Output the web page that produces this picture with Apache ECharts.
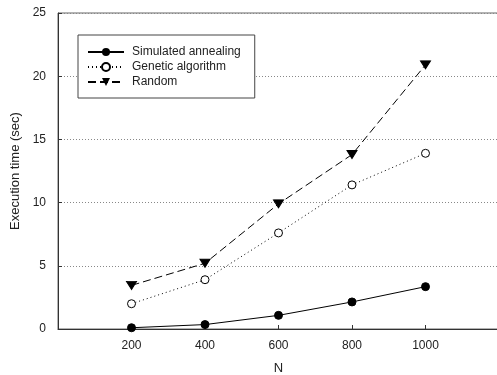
<!DOCTYPE html>
<html>
<head>
<meta charset="utf-8">
<script src="https://cdn.jsdelivr.net/npm/echarts@6/dist/echarts.min.js"></script>
<style>html,body{margin:0;padding:0;background:#fff;}#c{width:497px;height:375px;}</style>
</head>
<body>
<div id="c"></div>
<script>
var nValues = [200, 400, 600, 800, 1000];
var saValues = [0.1, 0.35, 1.08, 2.14, 3.35];
var gaValues = [2.0, 3.9, 7.6, 11.4, 13.9];
var rndValues = [3.45, 5.2, 9.9, 13.8, 20.9];
var seriesNames = ['Simulated annealing', 'Genetic algorithm', 'Random'];

function pairs(vals) { return nValues.map(function (n, i) { return [n, vals[i]]; }); }

var font = 'Liberation Sans, Arial, sans-serif';
var chart = echarts.init(document.getElementById('c'));
chart.setOption({
  animation: false,
  grid: { left: 58, right: -2, top: 13, bottom: 46, outerBoundsMode: 'none', containLabel: false,
    show: true, borderColor: '#666', borderWidth: 1 },
  legend: {
    left: 78, top: 35,
    orient: 'vertical',
    data: seriesNames,
    itemWidth: 36, itemHeight: 10, itemGap: 3,
    padding: [11, 14, 10, 9],
    borderColor: '#444', borderWidth: 1,
    backgroundColor: '#fff',
    textStyle: { fontFamily: font, fontSize: 12, color: '#222', padding: [0, 0, 0, 3] }
  },
  xAxis: {
    type: 'value', min: 0, max: 1200, interval: 200,
    name: 'N', nameLocation: 'middle', nameGap: 33,
    nameTextStyle: { fontFamily: font, fontSize: 13, color: '#222' },
    axisLine: { show: true, lineStyle: { color: '#333', width: 1 } },
    axisTick: { show: true, inside: true, length: 4, lineStyle: { color: '#333' } },
    axisLabel: { fontFamily: font, fontSize: 12, color: '#222', margin: 11,
      formatter: function (v) { return (v === 0 || v === 1200) ? '' : String(v); } },
    splitLine: { show: false }
  },
  yAxis: {
    type: 'value', min: 0, max: 25, interval: 5,
    name: 'Execution time (sec)', nameLocation: 'middle', nameGap: 33,
    nameTextStyle: { fontFamily: font, fontSize: 13, color: '#222' },
    axisLine: { show: true, lineStyle: { color: '#333', width: 1 } },
    axisTick: { show: true, inside: true, length: 4, lineStyle: { color: '#333' } },
    axisLabel: { fontFamily: font, fontSize: 12, color: '#222', margin: 12 },
    splitLine: { show: true, lineStyle: { color: '#888', type: [1, 2], width: 1 } }
  },
  series: [
    { name: seriesNames[0], type: 'line', data: pairs(saValues),
      symbol: 'circle', symbolSize: 8,
      itemStyle: { color: '#000', borderColor: '#000' },
      lineStyle: { color: '#000', width: 1, type: 'solid' } },
    { name: seriesNames[1], type: 'line', data: pairs(gaValues),
      symbol: 'circle', symbolSize: 8,
      itemStyle: { color: '#fff', borderColor: '#000', borderWidth: 1 },
      lineStyle: { color: '#000', width: 1, type: [1, 3] } },
    { name: seriesNames[2], type: 'line', data: pairs(rndValues),
      symbol: 'triangle', symbolRotate: 180, symbolSize: [10, 8],
      itemStyle: { color: '#000', borderColor: '#000' },
      lineStyle: { color: '#000', width: 1, type: [8, 4] } }
  ]
});
</script>
</body>
</html>
